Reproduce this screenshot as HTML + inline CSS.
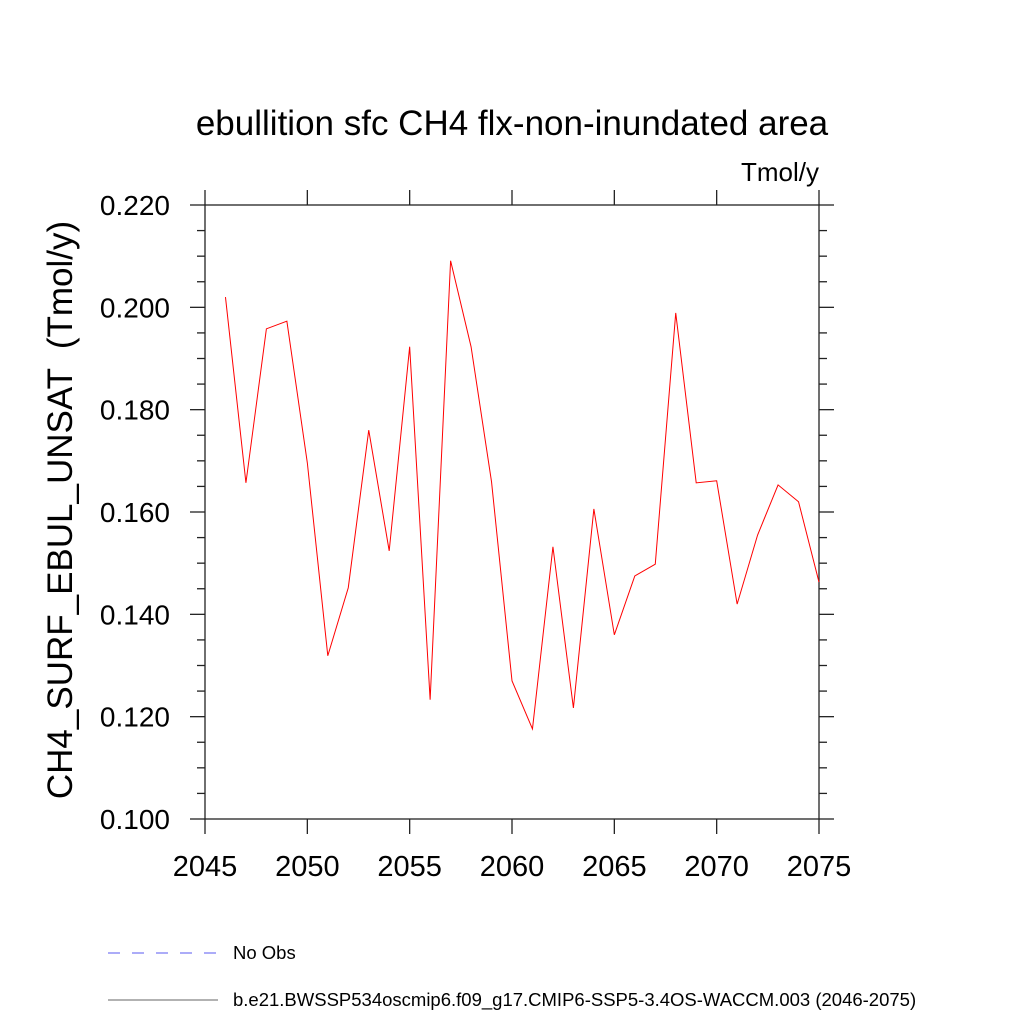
<!DOCTYPE html>
<html><head><style>body{margin:0;background:#fff}svg{display:block;font-family:"Liberation Sans",sans-serif}</style></head><body>
<svg id="c" width="1024" height="1024">
<text x="512" y="135" font-size="35" text-anchor="middle">ebullition sfc CH4 flx-non-inundated area</text>
<text x="819" y="181" font-size="26" text-anchor="end">Tmol/y</text>
<text transform="translate(72,510) rotate(-90)" font-size="35" text-anchor="middle" style="white-space:pre">CH4_SURF_EBUL_UNSAT  (Tmol/y)</text>
<g id="ax"></g>
<line x1="108" y1="953" x2="218" y2="953" stroke="#5a5af0" stroke-dasharray="12,12"/>
<text x="233" y="959" font-size="18.5">No Obs</text>
<line x1="108" y1="1000" x2="218" y2="1000" stroke="#666"/>
<text x="233" y="1006" font-size="18.5">b.e21.BWSSP534oscmip6.f09_g17.CMIP6-SSP5-3.4OS-WACCM.003 (2046-2075)</text>
</svg>
<script>
const years=[2046,2047,2048,2049,2050,2051,2052,2053,2054,2055,2056,2057,2058,2059,2060,2061,2062,2063,2064,2065,2066,2067,2068,2069,2070,2071,2072,2073,2074,2075];
const values=[0.2020,0.1657,0.1958,0.1973,0.1696,0.1319,0.1452,0.1760,0.1524,0.1923,0.1233,0.2091,0.1923,0.1659,0.1270,0.1176,0.1532,0.1217,0.1606,0.1360,0.1475,0.1498,0.1989,0.1657,0.1661,0.1420,0.1555,0.1653,0.1620,0.1463];
const xTicks=[2045,2050,2055,2060,2065,2070,2075];
const yTicks=[0.100,0.120,0.140,0.160,0.180,0.200,0.220];
const L=205,R=819,T=205,B=819;
const x=v=>L+(v-2045)/30*(R-L), y=v=>B-(v-0.1)/0.12*(B-T);
const g=document.getElementById('ax'),NS='http://www.w3.org/2000/svg';
function mk(t,a){const e=document.createElementNS(NS,t);for(const k in a)e.setAttribute(k,a[k]);g.appendChild(e);return e;}
let e=mk('rect',{x:L,y:T,width:R-L,height:B-T,fill:'none',stroke:'#222','stroke-width':1.3});


xTicks.forEach(t=>{const X=x(t);
 mk('line',{x1:X,y1:B,x2:X,y2:B+15,stroke:'#222','stroke-width':1.3});
 mk('line',{x1:X,y1:T,x2:X,y2:T-15,stroke:'#222','stroke-width':1.3});
 e=mk('text',{x:X,y:B+57,'font-size':29,'text-anchor':'middle'});e.textContent=t;
 
 });
for(let v=0.100;v<=0.2201;v+=0.005){const Y=y(v);const maj=Math.abs(v*50-Math.round(v*50))<1e-6;const len=maj?15:8;
 mk('line',{x1:L,y1:Y,x2:L-len,y2:Y,stroke:'#222','stroke-width':1.3});
 mk('line',{x1:R,y1:Y,x2:R+len,y2:Y,stroke:'#222','stroke-width':1.3});}
yTicks.forEach(t=>{e=mk('text',{x:170,y:y(t)+10,'font-size':28,'text-anchor':'end'});e.textContent=t.toFixed(3);
 
 });
e=mk('polyline',{points:years.map((yr,i)=>x(yr)+','+y(values[i])).join(' '),fill:'none',stroke:'#f00','stroke-width':1});


</script>
</body></html>
